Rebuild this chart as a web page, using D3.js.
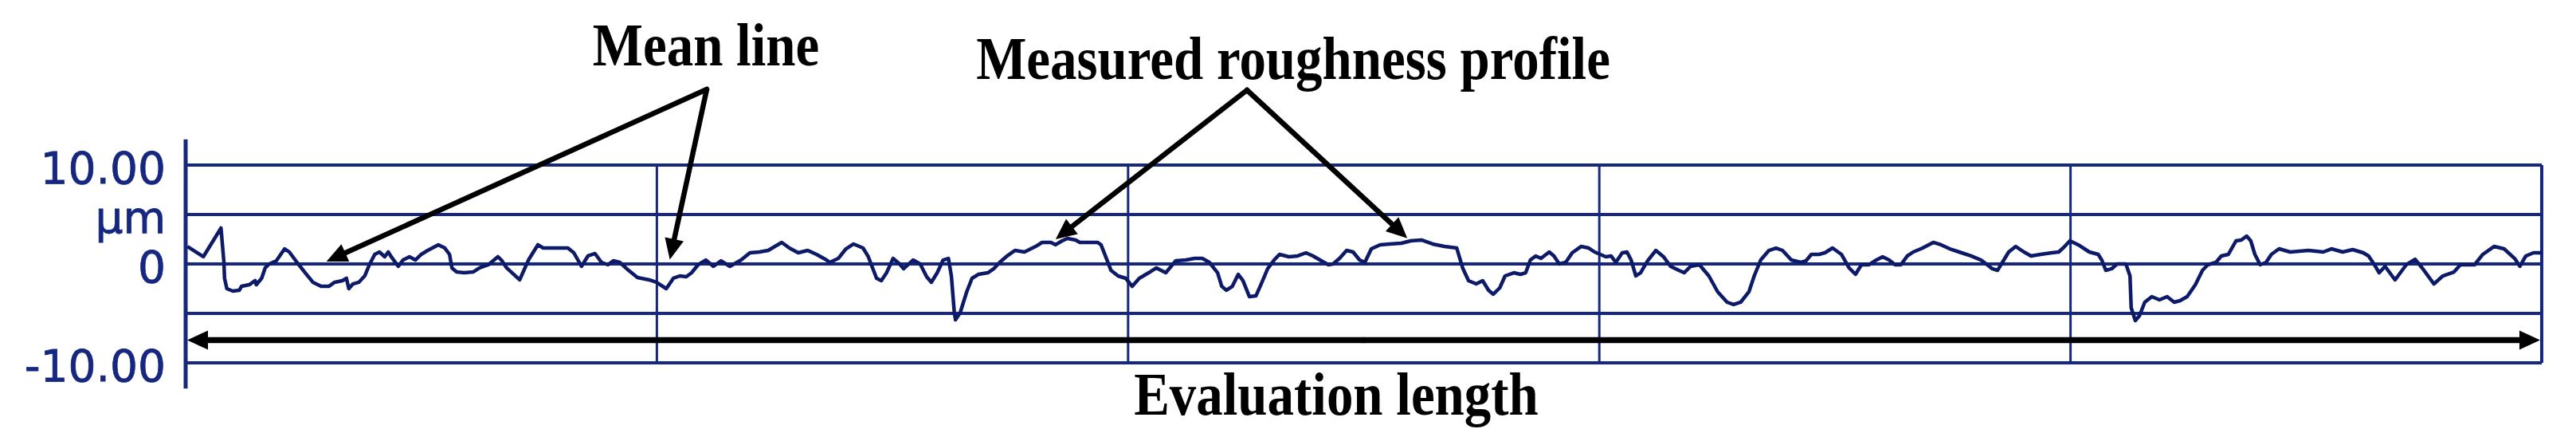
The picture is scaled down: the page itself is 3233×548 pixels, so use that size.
<!DOCTYPE html>
<html>
<head>
<meta charset="utf-8">
<title>Roughness profile</title>
<script src="https://cdn.jsdelivr.net/npm/d3@7.9.0/dist/d3.min.js"></script>
<style>
  body { margin: 0; background: #fff; }
  svg { display: block; }
</style>
</head>
<body>
<div id="chart"></div>
<script>
// evaluation length (mm), split in 5 sampling lengths
const sectionEdges = [0, 0.8, 1.6, 2.4, 3.2, 4.0];

// horizontal grid (µm) and the text shown next to each line
const gridValues = [10, 5, 0, -5, -10];
const gridLabels = ['10.00', 'µm', '0', '', '-10.00'];

// measured roughness profile: [position mm, height µm]
const profile = [
  [0.003, 1.77], [0.030, 0.73], [0.060, 3.63], [0.065, 0.16], [0.066, -1.45], [0.070, -2.50],
  [0.080, -2.74], [0.091, -2.66], [0.095, -2.26], [0.108, -2.10], [0.118, -1.69], [0.120, -2.10],
  [0.129, -1.45], [0.135, -0.40], [0.142, 0.00], [0.154, 0.32], [0.168, 1.53], [0.176, 1.21],
  [0.189, 0.16], [0.203, -0.89], [0.216, -1.85], [0.230, -2.26], [0.243, -2.26], [0.253, -1.85],
  [0.266, -1.69], [0.273, -1.45], [0.277, -2.50], [0.284, -2.02], [0.294, -1.85], [0.304, -1.21],
  [0.312, -0.08], [0.321, 0.97], [0.329, 1.21], [0.338, 0.73], [0.344, 1.21], [0.349, 0.73],
  [0.361, -0.24], [0.369, 0.40], [0.380, 0.73], [0.390, 0.40], [0.400, 0.97], [0.411, 1.37],
  [0.429, 1.94], [0.440, 1.61], [0.448, 0.97], [0.452, -0.40], [0.460, -0.81], [0.473, -0.89],
  [0.488, -0.81], [0.499, -0.40], [0.514, -0.08], [0.530, 0.73], [0.536, 0.40], [0.545, -0.40],
  [0.567, -1.61], [0.582, 0.40], [0.598, 1.94], [0.607, 1.61], [0.629, 1.61], [0.649, 1.61],
  [0.659, 1.13], [0.672, -0.24], [0.683, 0.81], [0.695, 1.05], [0.706, 0.16], [0.717, -0.08],
  [0.726, 0.32], [0.737, 0.16], [0.752, -0.65], [0.767, -1.37], [0.787, -1.61], [0.799, -1.85],
  [0.816, -2.50], [0.828, -1.45], [0.839, -1.21], [0.850, -1.29], [0.859, -0.89], [0.870, -0.08],
  [0.883, 0.40], [0.896, -0.24], [0.909, 0.32], [0.924, -0.24], [0.943, 0.40], [0.958, 1.13],
  [0.974, 1.21], [0.989, 1.37], [1.012, 2.18], [1.025, 1.61], [1.040, 1.13], [1.056, 1.37],
  [1.071, 0.97], [1.088, 0.40], [1.094, 0.16], [1.108, 0.56], [1.121, 1.53], [1.134, 2.02],
  [1.150, 1.61], [1.159, 0.73], [1.173, -1.45], [1.181, -1.69], [1.190, -0.89], [1.201, 0.56],
  [1.212, 0.00], [1.219, -0.48], [1.235, 0.40], [1.247, 0.00], [1.258, -1.29], [1.266, -1.85],
  [1.276, -0.89], [1.286, 0.40], [1.295, 0.56], [1.300, -1.21], [1.305, -4.92], [1.307, -5.65],
  [1.315, -4.92], [1.326, -2.82], [1.335, -1.45], [1.346, -1.05], [1.362, -0.89], [1.372, -0.48],
  [1.382, 0.16], [1.393, 0.73], [1.408, 1.37], [1.424, 1.21], [1.443, 1.77], [1.454, 2.18],
  [1.469, 2.18], [1.477, 1.94], [1.488, 2.34], [1.497, 2.58], [1.511, 2.42], [1.518, 2.18],
  [1.548, 2.18], [1.554, 1.94], [1.562, 0.73], [1.571, -0.65], [1.583, -1.21], [1.596, -1.45],
  [1.607, -2.26], [1.619, -1.45], [1.635, -0.89], [1.648, -0.40], [1.664, -0.89], [1.673, -0.24],
  [1.681, 0.32], [1.698, 0.40], [1.713, 0.56], [1.726, 0.56], [1.738, 0.16], [1.752, -0.89],
  [1.759, -2.26], [1.767, -2.66], [1.777, -2.26], [1.787, -1.05], [1.795, -1.69], [1.806, -3.31],
  [1.817, -3.23], [1.826, -2.02], [1.837, -0.48], [1.848, 0.40], [1.857, 0.97], [1.873, 0.73],
  [1.888, 0.81], [1.902, 1.13], [1.914, 0.81], [1.928, 0.32], [1.940, -0.08], [1.948, 0.00],
  [1.959, 0.56], [1.971, 1.37], [1.982, 1.21], [1.993, 0.40], [2.002, 0.16], [2.013, 1.53],
  [2.028, 1.94], [2.044, 2.02], [2.064, 2.10], [2.080, 2.34], [2.098, 2.42], [2.117, 2.02],
  [2.137, 1.77], [2.158, 1.61], [2.168, -0.40], [2.178, -1.69], [2.191, -2.02], [2.202, -1.69],
  [2.212, -2.66], [2.220, -3.06], [2.231, -2.42], [2.240, -1.21], [2.255, -0.89], [2.266, -1.05],
  [2.275, -0.89], [2.283, 0.40], [2.292, 0.81], [2.301, 0.56], [2.315, 1.21], [2.323, 0.81],
  [2.332, 0.00], [2.343, 0.16], [2.354, 1.13], [2.369, 1.77], [2.382, 1.61], [2.392, 1.21],
  [2.411, 0.73], [2.420, 0.81], [2.428, 0.16], [2.439, 1.13], [2.447, 1.21], [2.454, 0.40],
  [2.462, -1.21], [2.470, -0.89], [2.482, 0.32], [2.496, 1.37], [2.509, 0.73], [2.521, -0.24],
  [2.535, -0.65], [2.544, -0.89], [2.555, -0.24], [2.570, -0.08], [2.586, -1.21], [2.601, -2.82],
  [2.617, -3.87], [2.628, -4.11], [2.640, -3.87], [2.654, -2.82], [2.663, -1.21], [2.674, 0.40],
  [2.688, 1.37], [2.700, 1.61], [2.711, 1.37], [2.726, 0.40], [2.742, 0.16], [2.751, 0.32],
  [2.760, 0.97], [2.773, 0.97], [2.783, 1.13], [2.796, 1.61], [2.811, 0.97], [2.824, -0.40],
  [2.835, -1.05], [2.845, -0.08], [2.858, -0.08], [2.868, 0.32], [2.881, 0.73], [2.892, 0.40],
  [2.902, -0.08], [2.912, -0.08], [2.923, 0.81], [2.933, 1.21], [2.949, 1.61], [2.967, 2.18],
  [2.980, 1.94], [2.995, 1.53], [3.011, 1.21], [3.031, 0.81], [3.048, 0.40], [3.057, 0.00],
  [3.067, -0.48], [3.076, -0.65], [3.086, 0.32], [3.095, 1.21], [3.107, 1.77], [3.121, 1.21],
  [3.133, 0.81], [3.149, 0.97], [3.168, 1.13], [3.180, 1.21], [3.190, 1.77], [3.199, 2.34],
  [3.213, 1.94], [3.232, 1.21], [3.247, 0.97], [3.253, 0.40], [3.260, -0.65], [3.270, -0.48],
  [3.279, 0.00], [3.294, 0.00], [3.301, -1.21], [3.303, -4.44], [3.310, -5.73], [3.317, -5.24],
  [3.326, -3.87], [3.338, -3.31], [3.351, -3.63], [3.364, -3.31], [3.376, -3.87], [3.386, -3.71],
  [3.398, -3.31], [3.412, -2.10], [3.424, -0.65], [3.433, -0.08], [3.447, 0.16], [3.456, 0.81],
  [3.468, 0.97], [3.481, 2.34], [3.490, 2.42], [3.499, 2.82], [3.506, 2.34], [3.513, 0.97],
  [3.522, -0.08], [3.532, 0.16], [3.541, 0.97], [3.554, 1.53], [3.573, 1.21], [3.604, 1.37],
  [3.629, 1.21], [3.643, 1.53], [3.662, 1.21], [3.679, 1.45], [3.697, 1.13], [3.706, 0.81],
  [3.716, -0.08], [3.724, -0.89], [3.734, -0.24], [3.751, -1.61], [3.770, -0.08], [3.785, 0.48],
  [3.797, -0.40], [3.817, -2.02], [3.832, -1.21], [3.851, -0.81], [3.862, -0.08], [3.886, -0.08],
  [3.900, 0.97], [3.919, 1.77], [3.936, 1.53], [3.954, 0.56], [3.963, -0.24], [3.973, 0.81],
  [3.986, 1.13], [4.000, 1.13]
];

// callouts: where each arrow points, in data units [mm, µm]
const meanLineTips = [[0.239, 0.25], [0.822, 0.45]];
const profileTips = [[1.477, 2.5], [2.074, 2.6]];
const calloutTexts = ['Mean line', 'Measured roughness profile', 'Evaluation length'];

const width = 3233;
const height = 548;
const navy = '#16277f';
const ink = '#0c1a68';

const svg = d3.select('#chart')
  .append('svg')
  .attr('width', width)
  .attr('height', height)
  .attr('viewBox', `0 0 ${width} ${height}`);

const x = d3.scaleLinear().domain([0, 4]).range([233, 3190]);
const y = d3.scaleLinear().domain([-10, 10]).range([455, 207]);

// horizontal grid
svg.append('g')
  .selectAll('line')
  .data(gridValues)
  .join('line')
  .attr('x1', x(0))
  .attr('x2', x(4))
  .attr('y1', d => y(d))
  .attr('y2', d => y(d))
  .attr('stroke', navy)
  .attr('stroke-width', 4);

// section boundaries
svg.append('g')
  .selectAll('line')
  .data(sectionEdges.slice(1))
  .join('line')
  .attr('x1', d => x(d))
  .attr('x2', d => x(d))
  .attr('y1', y(10))
  .attr('y2', y(-10))
  .attr('stroke', navy)
  .attr('stroke-width', (d, i) => i === sectionEdges.length - 2 ? 4 : 3);

// left axis: labels from d3.axisLeft, longer spine drawn by hand
const yAxis = d3.axisLeft(y)
  .tickValues(gridValues)
  .tickFormat((d, i) => gridLabels[i])
  .tickSize(0)
  .tickPadding(25);

const axisG = svg.append('g')
  .attr('transform', `translate(${x(0)},0)`)
  .call(yAxis);
axisG.select('.domain').remove();
axisG.selectAll('text')
  .attr('dy', '0.4em')
  .attr('fill', navy)
  .attr('stroke', navy)
  .attr('stroke-width', 0.8)
  .style('font-family', '"DejaVu Sans", Verdana, sans-serif')
  .style('font-size', '55px');

svg.append('line')
  .attr('x1', x(0))
  .attr('x2', x(0))
  .attr('y1', y(12.6))
  .attr('y2', y(-12.6))
  .attr('stroke', navy)
  .attr('stroke-width', 5);

// profile
const line = d3.line()
  .x(d => x(d[0]))
  .y(d => y(d[1]))
  .curve(d3.curveLinear);

svg.append('path')
  .datum(profile)
  .attr('d', line)
  .attr('fill', 'none')
  .attr('stroke', ink)
  .attr('stroke-width', 4.5)
  .attr('stroke-linejoin', 'round');

// black arrows
function arrow(g, x1, y1, x2, y2, w) {
  const a = Math.atan2(y2 - y1, x2 - x1);
  const len = 26, half = 12;
  const bx = x2 - len * Math.cos(a);
  const by = y2 - len * Math.sin(a);
  g.append('line')
    .attr('x1', x1).attr('y1', y1)
    .attr('x2', bx + 4 * Math.cos(a)).attr('y2', by + 4 * Math.sin(a))
    .attr('stroke', '#000')
    .attr('stroke-width', w)
    .attr('stroke-linecap', 'round');
  g.append('path')
    .attr('d', `M${x2},${y2}L${bx - half * Math.sin(a)},${by + half * Math.cos(a)}L${bx + half * Math.sin(a)},${by - half * Math.cos(a)}Z`)
    .attr('fill', '#000');
}

const notes = svg.append('g');

const meanApex = [887, 112];
meanLineTips.forEach(t => arrow(notes, meanApex[0], meanApex[1], x(t[0]), y(t[1]), 6.5));

const profApex = [1565, 113];
profileTips.forEach(t => arrow(notes, profApex[0], profApex[1], x(t[0]), y(t[1]), 6.5));

// evaluation length, double headed
const evalY = y(-7.7);
const mid = (x(0) + x(4)) / 2;
arrow(notes, mid, evalY, x(0) + 2, evalY, 7.5);
arrow(notes, mid, evalY, x(4) - 2, evalY, 7.5);

const textStyle = (sel, cx, base) => sel
  .attr('text-anchor', 'middle')
  .attr('fill', '#000')
  .attr('transform', `translate(${cx},${base}) scale(0.97,1.1)`)
  .style('font-family', '"Liberation Serif", "Times New Roman", serif')
  .style('font-weight', 'bold')
  .style('font-size', '69px');

notes.append('text').text(calloutTexts[0]).call(textStyle, 886, 82);
notes.append('text').text(calloutTexts[1]).call(textStyle, 1623, 99);
notes.append('text').text(calloutTexts[2]).call(textStyle, 1677, 520);
</script>
</body>
</html>
